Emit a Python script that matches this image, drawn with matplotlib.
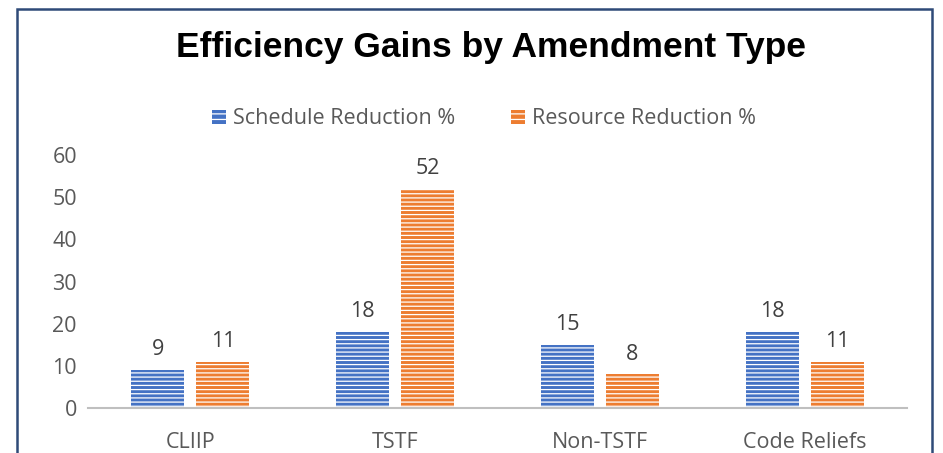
import matplotlib.pyplot as plt
import matplotlib.patches as mpatches
import numpy as np

plt.rcParams['font.family'] = ['Open Sans', 'DejaVu Sans']
plt.rcParams['hatch.linewidth'] = 0.9

# Data
categories = ['CLIIP', 'TSTF', 'Non-TSTF', 'Code Reliefs']
schedule = [9, 18, 15, 18]
resource = [11, 52, 8, 11]

blue = '#4472C4'
orange = '#ED7D31'
grey = '#595959'

fig = plt.figure(figsize=(9.43, 4.53), dpi=100)
ax = fig.add_axes([88/943, 1-408/453, 819/943, (408-155)/453])

x = np.arange(len(categories))
w = 0.259
off = 0.159
b1 = ax.bar(x - off, schedule, w, color=blue, hatch='----', edgecolor='white', linewidth=0)
b2 = ax.bar(x + off, resource, w, color=orange, hatch='----', edgecolor='white', linewidth=0)

for bars, vals in ((b1, schedule), (b2, resource)):
    for r, v in zip(bars, vals):
        ax.text(r.get_x() + r.get_width()/2, v + 2.3, str(v), ha='center', va='bottom',
                fontsize=15.5, color='#404040')

ax.set_xlim(-0.5, 3.5)
ax.set_ylim(0, 60)
ax.set_yticks(range(0, 61, 10))
ax.set_xticks(x)
ax.set_xticklabels(categories)
ax.tick_params(axis='both', length=0, labelsize=15.5, colors=grey)
ax.tick_params(axis='x', pad=17)
ax.tick_params(axis='y', pad=8)
for s in ('top', 'right', 'left'):
    ax.spines[s].set_visible(False)
ax.spines['bottom'].set_color('#BFBFBF')
ax.spines['bottom'].set_linewidth(1.5)

fig.text(491/943, 1-47/453, 'Efficiency Gains by Amendment Type', ha='center', va='center',
         fontsize=25.5, fontweight='bold', family='Liberation Sans', color='black')

h1 = mpatches.Patch(facecolor=blue, hatch='---', edgecolor='white', linewidth=0)
h2 = mpatches.Patch(facecolor=orange, hatch='---', edgecolor='white', linewidth=0)
fig.legend([h1, h2], ['Schedule Reduction %', 'Resource Reduction %'], loc='center',
           bbox_to_anchor=(484/943, 1-119/453), ncol=2, frameon=False, fontsize=15.5,
           labelcolor=grey, handlelength=0.65, handleheight=0.65, handletextpad=0.3,
           columnspacing=2.6)

# outer frame
frame = mpatches.Rectangle((17/943, -0.05), (932-17)/943, 1.05 - 9/453, transform=fig.transFigure,
                           fill=False, edgecolor='#2F4A78', linewidth=1.8)
fig.patches.append(frame)

fig.savefig('out.png', dpi=100)
